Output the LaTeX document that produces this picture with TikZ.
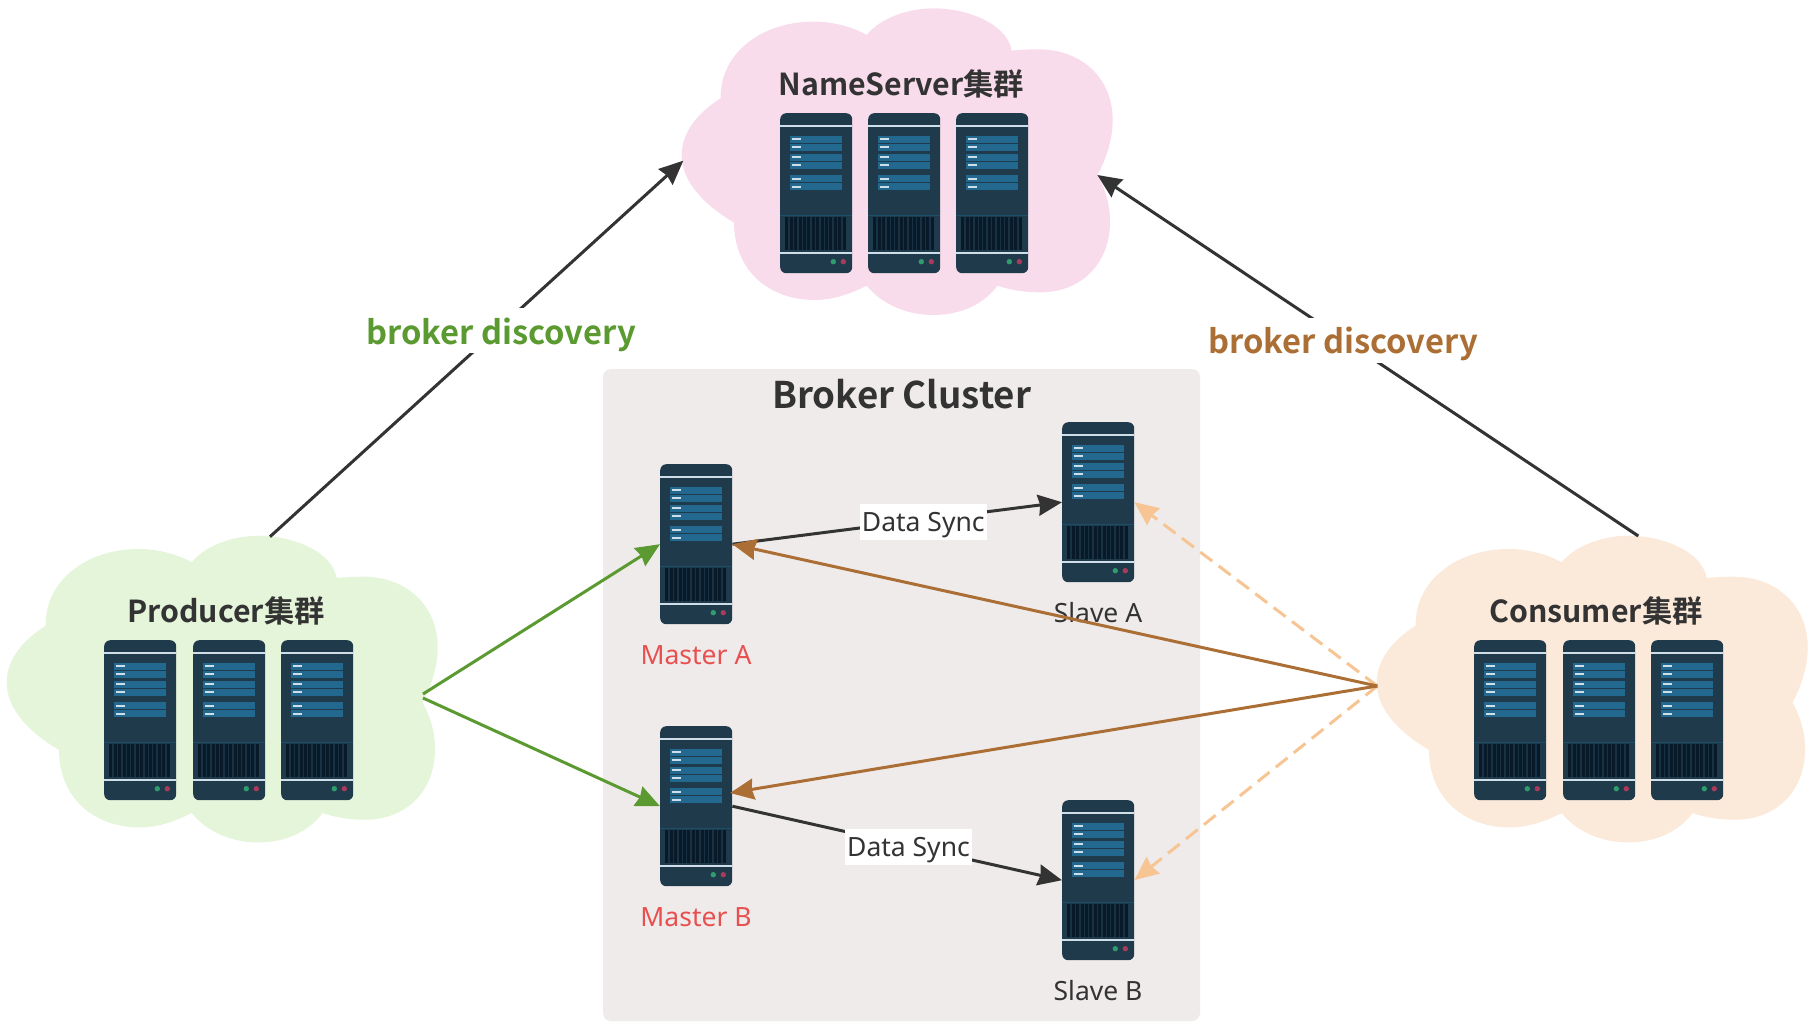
\documentclass[tikz,border=0pt]{standalone}
\usepackage{fontspec}
\usetikzlibrary{arrows.meta}
\setmainfont{Noto Sans}
\newfontfamily\cjkb{Noto Sans CJK SC Bold}
\definecolor{srvbody}{HTML}{1F3A4B}
\definecolor{srvbar}{HTML}{23688F}
\definecolor{srvline}{HTML}{CFDFEA}
\definecolor{srvvent}{HTML}{081A2A}
\definecolor{srvsep}{HTML}{1B4E68}
\definecolor{srvgreen}{HTML}{2E9C6C}
\definecolor{srvred}{HTML}{AA3A5A}
\definecolor{ink}{HTML}{333333}
\definecolor{grn}{HTML}{5A9A30}
\definecolor{brn}{HTML}{AB6E34}
\definecolor{pch}{HTML}{F7C594}
\definecolor{redtxt}{HTML}{E85050}
\tikzset{
  x=1pt,y=-1pt,
  srv/.style={draw=none,fill=srvbody,rounded corners=6pt,minimum width=72pt,minimum height=160pt,inner sep=0pt,anchor=north west},
  ttl/.style={font=\cjkb\fontsize{30.3}{30.3}\selectfont,text=ink,anchor=base,inner sep=0pt},
  lbl/.style={font=\fontsize{26.5}{26.5}\selectfont,anchor=base,inner sep=0pt},
  sync/.style={font=\fontsize{26.5}{26.5}\selectfont,text=ink,fill=white,minimum width=127pt,inner sep=0pt,text height=27.7pt,text depth=8.3pt},
  disc/.style={font=\cjkb\fontsize{32.7}{32.7}\selectfont,fill=white,inner sep=0pt,anchor=base,text height=36pt,text depth=9pt},
  link/.style={line width=3pt,-{Stealth[length=24pt,width=21pt,inset=2pt]}},
  dlink/.style={link,dash pattern=on 15pt off 8pt},
}
\newcommand{\cloudat}[3]{%
  \fill[#3,shift={(#1,#2)}] (185,26.7)
   .. controls (200,8) and (230,0) .. (251.7,0)
   .. controls (285,0) and (325,15) .. (330,42.3)
   .. controls (338,41.5) and (347,41) .. (356.7,41)
   .. controls (400,41) and (431,70) .. (431,111.7)
   .. controls (431,130) and (425,150) .. (415.7,166.7)
   .. controls (423,180) and (428.3,195) .. (428.3,213.3)
   .. controls (428.3,255) and (400,284) .. (358.3,284)
   .. controls (343,284) and (330,282) .. (315.7,277.3)
   .. controls (303,295) and (280,306.7) .. (251.7,306.7)
   .. controls (225,306.7) and (200,296) .. (185,277.3)
   .. controls (170,285) and (152,291.7) .. (133.3,291.7)
   .. controls (85,291.7) and (52.3,260) .. (52.3,214.3)
   .. controls (20,195) and (0,172) .. (0,146.7)
   .. controls (0,125) and (15,105) .. (39,90)
   .. controls (38,45) and (80,13.3) .. (131.7,13.3)
   .. controls (150,13.3) and (170,18) .. (185,26.7) -- cycle;}
\newcommand{\server}[3]{%
  \node[srv] (#1) at (#2,#3) {};
  \begin{scope}[shift={(#2,#3)}]
    \fill[srvline] (0,12.2) rectangle (72,14.2);
    \foreach \yy in {23,31,41,49,62.3,70.3}{
      \fill[srvbar] (10,\yy) rectangle (62,\yy+6.7);
      \fill[srvline] (11.5,\yy+2.4) rectangle (21,\yy+4.4);
    }
    \fill[srvsep] (0,102) rectangle (72,103);
    \fill[srvvent!25!srvbody] (5,104.3) rectangle (66,137);
    \foreach \ii in {0,...,13}{
      \fill[srvvent] (5.4+\ii*4.4,104.3) rectangle (8.4+\ii*4.4,137);
    }
    \fill[srvline] (0,139) rectangle (72,141);
    \fill[srvgreen] (53.3,148.7) circle (2.7);
    \fill[srvred] (63.3,148.7) circle (2.7);
  \end{scope}}
\begin{document}
\begin{tikzpicture}
\useasboundingbox (0,0) rectangle (1817,1029);
\fill[white] (0,0) rectangle (1817,1029);
\cloudat{681.7}{8.3}{fill={rgb,255:red,249;green,220;blue,236}}
\cloudat{6.7}{535.7}{fill={rgb,255:red,229;green,245;blue,218}}
\cloudat{1376.7}{535.7}{fill={rgb,255:red,251;green,233;blue,218}}
\fill[fill={rgb,255:red,240;green,235;blue,235},rounded corners=8pt] (603,369) rectangle (1200,1021);
\node[ttl] (tNS) at (901.5,95) {NameServer集群};
\node[ttl] (tPR) at (226,622) {Producer集群};
\node[ttl] (tCO) at (1596,622) {Consumer集群};
\node[ttl,font=\cjkb\fontsize{36.7}{36.7}\selectfont] (tBC) at (901.7,408) {Broker Cluster};
\server{ns1}{780}{113}\server{ns2}{868}{113}\server{ns3}{956}{113}
\server{pr1}{104}{640}\server{pr2}{193}{640}\server{pr3}{281}{640}
\server{co1}{1474}{640}\server{co2}{1563}{640}\server{co3}{1651}{640}
\server{ma}{660}{464}\server{sa}{1062}{422}\server{mb}{660}{726}\server{sb}{1062}{800}
\node[lbl,text=redtxt] (lma) at (696,664.3) {Master A};
\node[lbl,text=redtxt] (lmb) at (696,926.7) {Master B};
\node[lbl,text=ink] (lsa) at (1098,622.7) {Slave A};
\node[lbl,text=ink] (lsb) at (1098,1000.3) {Slave B};
\coordinate (prTop) at (270,536.7);
\coordinate (coTop) at (1638.3,536);
\coordinate (nsL) at (683.3,160.7);
\coordinate (nsR) at (1097.3,175);
\coordinate (prA) at (423,694);
\coordinate (prB) at (423,698);
\coordinate (coOut) at (1377.3,686);
\coordinate (mbIn) at (730,793);
\draw[link,ink] (prTop) -- (nsL);
\draw[link,ink] (coTop) -- (nsR);
\node[disc,text=grn] (d1) at (501,344) {broker discovery};
\node[disc,text=brn] (d2) at (1343,353.5) {broker discovery};
\draw[link,grn] (prA) -- (ma.west);
\draw[link,grn] (prB) -- (mb.west);
\draw[link,ink] (ma.east) -- (sa.west);
\draw[link,ink] (mb.east) -- (sb.west);
\draw[dlink,pch] (coOut) -- (sa.east);
\draw[dlink,pch] (coOut) -- (sb.east);
\draw[link,brn] (coOut) -- (ma.east);
\draw[link,brn] (coOut) -- (mbIn);
\node[sync,anchor=base] (s1) at (923.3,531.7) {Data Sync};
\node[sync,anchor=base] (s2) at (908.5,856.7) {Data Sync};
\end{tikzpicture}
\end{document}
